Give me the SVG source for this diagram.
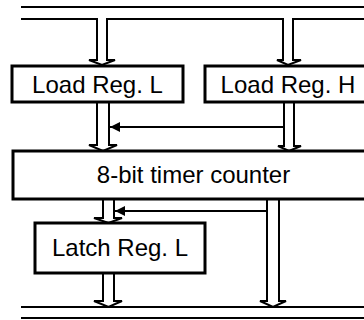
<svg xmlns="http://www.w3.org/2000/svg" width="364" height="320" viewBox="0 0 364 320">
<defs>
<style>
.box{fill:#fff;stroke:#000;stroke-width:3}
.lbl{font-family:"Liberation Sans",Arial,sans-serif;font-size:24px;fill:#000;text-anchor:middle}
.ln{fill:none;stroke:#000;stroke-width:2}
.har{fill:#fff;stroke:#000;stroke-width:2;stroke-linejoin:miter}
</style>
<marker id="ah" viewBox="0 0 10 10" refX="10" refY="5" markerWidth="10" markerHeight="10" markerUnits="userSpaceOnUse" orient="auto">
<path d="M0,0 L10,5 L0,10 z" fill="#000"/>
</marker>
</defs>
<rect width="364" height="320" fill="#fff"/>
<g id="connectors">
<line class="ln" x1="21" y1="7" x2="364" y2="7"/>
<line class="ln" x1="21" y1="19" x2="97" y2="19"/>
<line class="ln" x1="107" y1="19" x2="283" y2="19"/>
<line class="ln" x1="293" y1="19" x2="364" y2="19"/>
<line class="ln" x1="21" y1="307" x2="364" y2="307"/>
<line class="ln" x1="21" y1="318" x2="364" y2="318"/>
<path class="har" d="M97,18 V60 H89 L102,65 L115,60 H107 V18"/>
<path class="har" d="M283,18 V60 H277 L288,65 L301,60 H293 V18"/>
<path class="har" d="M97,102 V145 H89 L103,151 L117,145 H109 V102"/>
<path class="har" d="M284,102 V146 H278 L289,151 L301,146 H294 V102"/>
<path class="har" d="M103,199 V218 H94 L108.5,223 L122,218 H114 V199"/>
<path class="har" d="M103,273 V301 H94 L108.5,307 L122,301 H114 V273"/>
<path class="har" d="M267,199 V301 H260 L273,307 L286,301 H279 V199"/>
<line class="ln" x1="284" y1="127" x2="110" y2="127" marker-end="url(#ah)"/>
<line class="ln" x1="267" y1="211" x2="115" y2="211" marker-end="url(#ah)"/>
</g>
<g id="load-reg-l">
<rect class="box" x="12" y="66" width="171" height="36"/>
<text class="lbl" x="97.5" y="92.5">Load Reg. L</text>
</g>
<g id="load-reg-h">
<rect class="box" x="205" y="66" width="170" height="36"/>
<text class="lbl" x="288" y="92.5">Load Reg. H</text>
</g>
<g id="timer-counter">
<rect class="box" x="13" y="151" width="362" height="48"/>
<text class="lbl" x="193.5" y="183">8-bit timer counter</text>
</g>
<g id="latch-reg-l">
<rect class="box" x="35" y="223" width="170" height="50"/>
<text class="lbl" x="120" y="256">Latch Reg. L</text>
</g>
</svg>
